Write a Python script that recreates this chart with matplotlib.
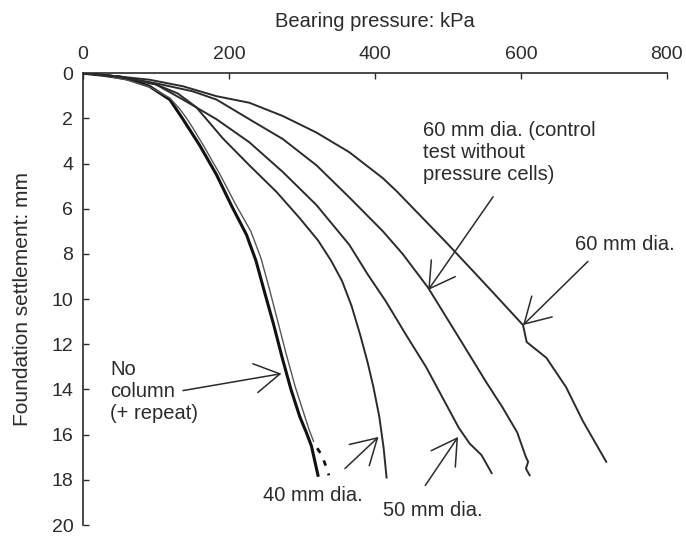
import matplotlib.pyplot as plt

plt.rcParams['font.family'] = ['Liberation Sans', 'DejaVu Sans']

# bearing pressure (kPa) vs settlement (mm)
p_none = [0, 30, 60, 91, 119, 137, 160, 183, 204, 224, 237, 248, 261, 273, 285, 297, 306, 313, 322]
s_none = [0, 0.1, 0.25, 0.58, 1.17, 2.04, 3.2, 4.5, 5.9, 7.15, 8.3, 9.6, 11.1, 12.6, 14.0, 15.2, 15.9, 16.5, 17.8]

p_repeat = [0, 30, 60, 91, 119, 133, 142, 150, 165, 188, 209, 230, 244, 255, 267, 279, 291, 302, 310, 316]
s_repeat = [0, 0.1, 0.3, 0.6, 1.1, 1.6, 2.0, 2.4, 3.2, 4.5, 5.8, 7.0, 8.2, 9.5, 11.0, 12.5, 13.9, 15.0, 15.8, 16.3]
p_repeat_end = [321, 327, 333, 337]
s_repeat_end = [16.6, 16.9, 17.4, 17.8]

p_40 = [0, 50, 100, 130, 155, 192, 228, 265, 297, 322, 340, 355, 368, 380, 390, 398, 406, 412, 416]
s_40 = [0, 0.15, 0.5, 0.9, 1.5, 2.9, 4.08, 5.25, 6.42, 7.4, 8.3, 9.2, 10.3, 11.6, 12.8, 13.9, 15.2, 16.6, 17.9]

p_50 = [0, 50, 100, 137, 183, 228, 274, 320, 365, 390, 415, 443, 470, 495, 515, 530, 546, 553, 560]
s_50 = [0, 0.15, 0.5, 1.17, 2.04, 3.06, 4.38, 5.84, 7.6, 8.9, 10.1, 11.6, 13.0, 14.5, 15.7, 16.4, 16.9, 17.3, 17.7]

p_ctrl = [0, 50, 100, 150, 183, 228, 274, 320, 365, 411, 438, 473, 515, 553, 575, 595, 607, 610, 607, 612]
s_ctrl = [0, 0.15, 0.45, 0.8, 1.17, 2.04, 2.92, 4.08, 5.5, 7.0, 8.0, 9.5, 11.7, 13.7, 14.8, 15.9, 17.0, 17.2, 17.5, 17.8]

p_60 = [0, 50, 91, 137, 183, 228, 274, 320, 365, 411, 430, 498, 553, 603, 608, 635, 662, 685, 717]
s_60 = [0, 0.15, 0.29, 0.58, 1.02, 1.31, 1.9, 2.63, 3.5, 4.65, 5.23, 7.5, 9.4, 11.15, 11.9, 12.6, 13.9, 15.4, 17.2]

x_ticks = [0, 200, 400, 600, 800]
y_ticks = [0, 2, 4, 6, 8, 10, 12, 14, 16, 18, 20]

ink = '#2b2b2b'

fig = plt.figure(figsize=(6.86, 5.36), dpi=100)
ax = fig.add_axes([0.121, 0.0205, 0.851, 0.843])

ax.plot(p_none, s_none, color='#111111', lw=2.2)
ax.plot(p_repeat, s_repeat, color='#555555', lw=1.0)
ax.plot(p_repeat_end, s_repeat_end, color='#111111', lw=2.0, ls=(0, (2, 3)))
for p, s in [(p_40, s_40), (p_50, s_50), (p_ctrl, s_ctrl), (p_60, s_60)]:
    ax.plot(p, s, color=ink, lw=1.4)

ax.set_xlim(0, 800)
ax.set_ylim(20, 0)
ax.xaxis.tick_top()
ax.xaxis.set_label_position('top')
ax.set_xticks(x_ticks)
ax.set_yticks(y_ticks)
ax.tick_params(direction='in', length=4, width=1, labelsize=14, colors=ink, pad=7)
ax.spines['right'].set_visible(False)
ax.spines['bottom'].set_visible(False)
for side in ['top', 'left']:
    ax.spines[side].set_color(ink)
    ax.spines[side].set_linewidth(1.2)
ax.set_xlabel('Bearing pressure: kPa', fontsize=14.5, color=ink, labelpad=14)
ax.set_ylabel('Foundation settlement: mm', fontsize=15, color=ink, labelpad=14)

# labels and arrows
arrow = dict(arrowstyle='->,head_length=0.6,head_width=0.35', color=ink, lw=1.1,
             shrinkA=0, shrinkB=0, mutation_scale=30)
txt = dict(fontsize=14.5, color=ink, clip_on=False)

ax.text(466, 2.1, '60 mm dia. (control\ntest without\npressure cells)', va='top', ha='left', **txt)
ax.annotate('', xy=(473, 9.6), xytext=(562, 5.47), arrowprops=arrow)

ax.text(674, 7.6, '60 mm dia.', va='center', ha='left', **txt)
ax.annotate('', xy=(603, 11.15), xytext=(692, 8.33), arrowprops=arrow)

ax.text(37, 12.7, 'No\ncolumn\n(+ repeat)', va='top', ha='left', **txt)
ax.annotate('', xy=(272, 13.3), xytext=(137, 14.05), arrowprops=arrow)

ax.text(247, 18.7, '40 mm dia.', va='center', ha='left', **txt)
ax.annotate('', xy=(405, 16.1), xytext=(359, 17.5), arrowprops=arrow)

ax.text(411, 19.35, '50 mm dia.', va='center', ha='left', **txt)
ax.annotate('', xy=(514, 16.1), xytext=(469, 18.25), arrowprops=arrow)

fig.savefig('out.png', dpi=100)
